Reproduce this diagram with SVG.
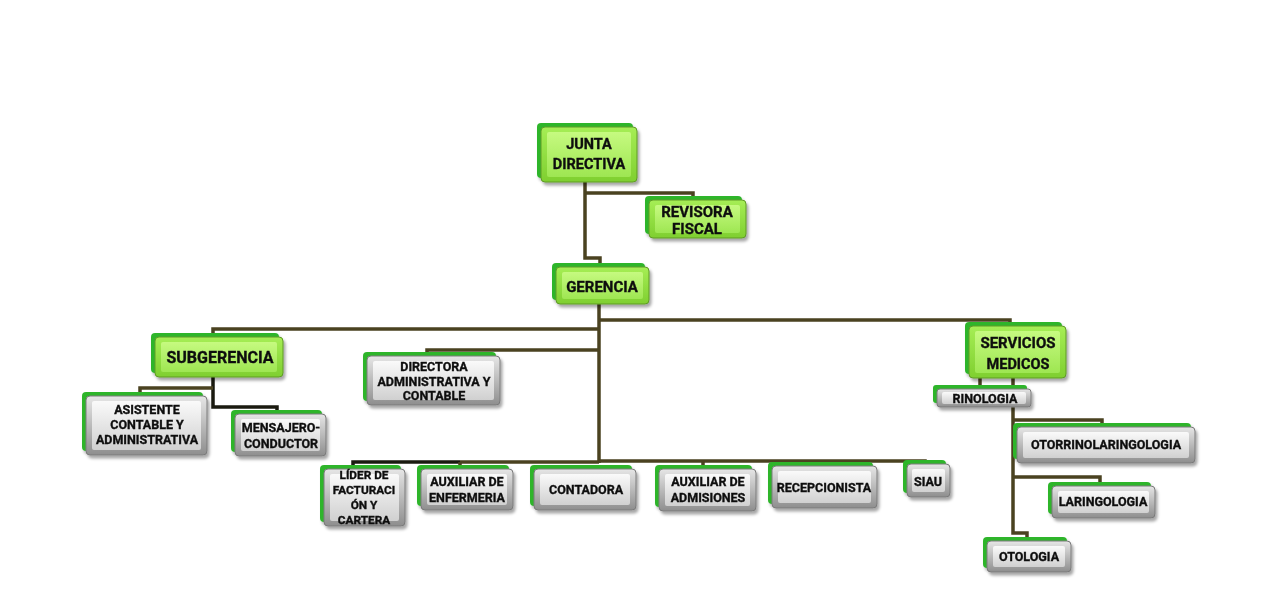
<svg xmlns="http://www.w3.org/2000/svg" width="1262" height="604" viewBox="0 0 1262 604">
<defs>
<linearGradient id="limeO" x1="0" y1="0" x2="0" y2="1"><stop offset="0" stop-color="#a6ee55"/><stop offset="1" stop-color="#7fcf30"/></linearGradient>
<linearGradient id="limeI" x1="0" y1="0" x2="0" y2="1"><stop offset="0" stop-color="#c6fa80"/><stop offset="1" stop-color="#9ee652"/></linearGradient>
<linearGradient id="grayO" x1="0" y1="0" x2="0" y2="1"><stop offset="0" stop-color="#e6e6e6"/><stop offset="1" stop-color="#8e8e8e"/></linearGradient>
<linearGradient id="grayI" x1="0" y1="0" x2="0" y2="1"><stop offset="0" stop-color="#fafafa"/><stop offset="1" stop-color="#d0d0d0"/></linearGradient>
<filter id="sh" x="-20%" y="-20%" width="150%" height="160%"><feDropShadow dx="2" dy="3" stdDeviation="1.8" flood-color="#000" flood-opacity="0.35"/></filter>
</defs>
<style>
.bk{fill:#2fb52c}
.lo{fill:url(#limeO);stroke:#5e9a26;stroke-width:1}
.li{fill:url(#limeI)}
.go{fill:url(#grayO);stroke:#7a7a7a;stroke-width:1}
.gi{fill:url(#grayI)}
.t{font-family:Roboto,"Liberation Sans",sans-serif;font-weight:700;fill:#111;stroke:#111;stroke-width:0.35;text-anchor:middle}
.g15{font-size:15px}.g16{font-size:16px}.g14{font-size:14.5px}
.s12{font-size:12.5px}.s11{font-size:11.8px}
.c{fill:none;stroke:#4a4220;stroke-width:3.5}
.cb{fill:none;stroke:#1a1a10;stroke-width:3.5}
</style>
<rect width="1262" height="604" fill="#ffffff"/>
<g id="connectors">
<path class="c" d="M585 182 V258 H600 V266"/>
<path class="c" d="M585 193 H693 V200"/>
<path class="c" d="M599 304 V463"/>
<path class="c" d="M599 329 H213 V334"/>
<path class="c" d="M599 350 H427 V354"/>
<path class="c" d="M599 320 H1010 V324"/>
<path class="cb" d="M213 377 V407 H277 V412"/>
<path class="c" d="M213 388 H140 V393"/>
<path class="cb" d="M353 466 V462 H460"/>
<path class="c" d="M460 462 H599 M599 461 H925 V464 M460 462 V466 M703 461 V466 M818 461 V464"/>
<path class="c" d="M980 378 V386"/>
<path class="c" d="M1013 378 V533 H1027 V538"/>
<path class="c" d="M1013 420 H1102 V426"/>
<path class="c" d="M1013 477 H1100 V482"/>
</g>
<g id="junta" filter="url(#sh)">
<rect class="bk" x="537" y="123" width="96" height="55" rx="4"/>
<rect class="lo" x="541" y="127" width="96" height="55" rx="4"/>
<rect class="li" x="547" y="132" width="84" height="45" rx="2"/>
<text class="t g14" x="589" y="149">JUNTA</text>
<text class="t g14" x="589" y="169">DIRECTIVA</text>
</g>
<g id="revisora" filter="url(#sh)">
<rect class="bk" x="645" y="196" width="97" height="38" rx="4"/>
<rect class="lo" x="649" y="200" width="97" height="38" rx="4"/>
<rect class="li" x="655" y="205" width="85" height="28" rx="2"/>
<text class="t g15" x="697" y="217">REVISORA</text>
<text class="t g15" x="697" y="234">FISCAL</text>
</g>
<g id="gerencia" filter="url(#sh)">
<rect class="bk" x="552" y="263" width="93" height="37" rx="4"/>
<rect class="lo" x="556" y="267" width="93" height="37" rx="4"/>
<rect class="li" x="562" y="272" width="81" height="27" rx="2"/>
<text class="t g15" x="602" y="292">GERENCIA</text>
</g>
<g id="subgerencia" filter="url(#sh)">
<rect class="bk" x="151" y="333" width="128" height="40" rx="4"/>
<rect class="lo" x="155" y="337" width="128" height="40" rx="4"/>
<rect class="li" x="161" y="342" width="116" height="30" rx="2"/>
<text class="t g16" x="220" y="363">SUBGERENCIA</text>
</g>
<g id="servicios" filter="url(#sh)">
<rect class="bk" x="965" y="322" width="97" height="52" rx="4"/>
<rect class="lo" x="969" y="326" width="97" height="52" rx="4"/>
<rect class="li" x="975" y="331" width="85" height="42" rx="2"/>
<text class="t g15" x="1018" y="348">SERVICIOS</text>
<text class="t g14" x="1018" y="369">MEDICOS</text>
</g>
<g id="directora" filter="url(#sh)">
<rect class="bk" x="363" y="352" width="133" height="49" rx="4"/>
<rect class="go" x="367" y="356" width="133" height="49" rx="4"/>
<rect class="gi" x="373" y="361" width="121" height="39" rx="2"/>
<text class="t s12" x="434" y="371">DIRECTORA</text>
<text class="t s12" x="434" y="386">ADMINISTRATIVA Y</text>
<text class="t s12" x="434" y="400">CONTABLE</text>
</g>
<g id="asistente" filter="url(#sh)">
<rect class="bk" x="82" y="392" width="121" height="59" rx="4"/>
<rect class="go" x="86" y="396" width="121" height="59" rx="4"/>
<rect class="gi" x="92" y="401" width="109" height="49" rx="2"/>
<text class="t s12" x="147" y="414">ASISTENTE</text>
<text class="t s12" x="147" y="429">CONTABLE Y</text>
<text class="t s12" x="147" y="444">ADMINISTRATIVA</text>
</g>
<g id="mensajero" filter="url(#sh)">
<rect class="bk" x="231" y="410" width="91" height="42" rx="4"/>
<rect class="go" x="235" y="414" width="91" height="42" rx="4"/>
<rect class="gi" x="241" y="419" width="79" height="32" rx="2"/>
<text class="t s12" x="281" y="432">MENSAJERO-</text>
<text class="t s12" x="281" y="448">CONDUCTOR</text>
</g>
<g id="lider" filter="url(#sh)">
<rect class="bk" x="320" y="465" width="81" height="57" rx="4"/>
<rect class="go" x="324" y="469" width="81" height="57" rx="4"/>
<rect class="gi" x="330" y="474" width="69" height="47" rx="2"/>
<text class="t s11" x="364" y="479">LÍDER DE</text>
<text class="t s11" x="364" y="494">FACTURACI</text>
<text class="t s11" x="364" y="509">ÓN Y</text>
<text class="t s11" x="364" y="524">CARTERA</text>
</g>
<g id="auxenf" filter="url(#sh)">
<rect class="bk" x="417" y="465" width="92" height="41" rx="4"/>
<rect class="go" x="421" y="469" width="92" height="41" rx="4"/>
<rect class="gi" x="427" y="474" width="80" height="31" rx="2"/>
<text class="t s12" x="467" y="486">AUXILIAR DE</text>
<text class="t s12" x="467" y="502">ENFERMERIA</text>
</g>
<g id="contadora" filter="url(#sh)">
<rect class="bk" x="530" y="465" width="102" height="41" rx="4"/>
<rect class="go" x="534" y="469" width="102" height="41" rx="4"/>
<rect class="gi" x="540" y="474" width="90" height="31" rx="2"/>
<text class="t s12" x="586" y="494">CONTADORA</text>
</g>
<g id="auxadm" filter="url(#sh)">
<rect class="bk" x="655" y="465" width="97" height="42" rx="4"/>
<rect class="go" x="659" y="469" width="97" height="42" rx="4"/>
<rect class="gi" x="665" y="474" width="85" height="32" rx="2"/>
<text class="t s12" x="708" y="486">AUXILIAR DE</text>
<text class="t s12" x="708" y="502">ADMISIONES</text>
</g>
<g id="recepcionista" filter="url(#sh)">
<rect class="bk" x="768" y="462" width="105" height="42" rx="4"/>
<rect class="go" x="772" y="466" width="105" height="42" rx="4"/>
<rect class="gi" x="778" y="471" width="93" height="32" rx="2"/>
<text class="t s12" x="824" y="492">RECEPCIONISTA</text>
</g>
<g id="siau" filter="url(#sh)">
<rect class="bk" x="903" y="460" width="43" height="33" rx="4"/>
<rect class="go" x="907" y="464" width="43" height="33" rx="4"/>
<rect class="gi" x="912" y="469" width="33" height="23" rx="2"/>
<text class="t s12" x="928" y="486">SIAU</text>
</g>
<g id="rinologia" filter="url(#sh)">
<rect class="bk" x="933" y="385" width="94" height="18" rx="3"/>
<rect class="go" x="937" y="389" width="94" height="18" rx="3"/>
<rect class="gi" x="942" y="392" width="84" height="12" rx="2"/>
<text class="t s12" x="985" y="403">RINOLOGIA</text>
</g>
<g id="otorrino" filter="url(#sh)">
<rect class="bk" x="1013" y="423" width="178" height="36" rx="4"/>
<rect class="go" x="1017" y="427" width="178" height="36" rx="4"/>
<rect class="gi" x="1023" y="432" width="166" height="26" rx="2"/>
<text class="t s12" x="1106" y="449">OTORRINOLARINGOLOGIA</text>
</g>
<g id="laringologia" filter="url(#sh)">
<rect class="bk" x="1048" y="482" width="103" height="32" rx="4"/>
<rect class="go" x="1052" y="486" width="103" height="32" rx="4"/>
<rect class="gi" x="1058" y="491" width="91" height="22" rx="2"/>
<text class="t s12" x="1103" y="506">LARINGOLOGIA</text>
</g>
<g id="otologia" filter="url(#sh)">
<rect class="bk" x="983" y="537" width="84" height="31" rx="4"/>
<rect class="go" x="987" y="541" width="84" height="31" rx="4"/>
<rect class="gi" x="993" y="546" width="72" height="21" rx="2"/>
<text class="t s12" x="1029" y="561">OTOLOGIA</text>
</g>
</svg>
